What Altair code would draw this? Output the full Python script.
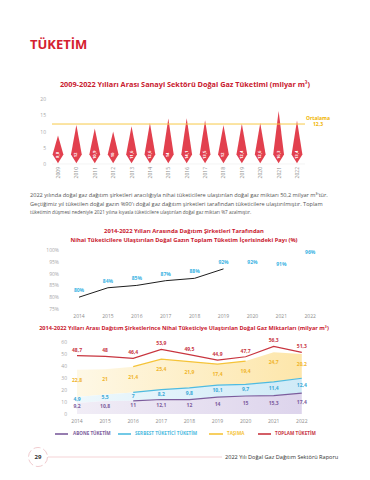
import altair as alt
import pandas as pd

FONT = "Open Sans"
RED = "#c9202f"

# ---------------- data ----------------
page_title = "TÜKETİM"
title1 = "2009-2022 Yılları Arası Sanayi Sektörü Doğal Gaz Tüketimi (milyar m³)"
years1 = list(range(2009, 2023))
sanayi = [8.8, 12, 10.9, 10, 11.6, 12.6, 14, 14.1, 13.5, 12, 12.4, 12.6, 16.3, 13.4]
ortalama = 12.3
ortalama_text = ["Ortalama", "12,3"]
y_ticks1 = [0, 5, 10, 15, 20]

paragraph = [
    "2022 yılında doğal gaz dağıtım şirketleri aracılığıyla nihai tüketicilere ulaştırılan doğal gaz miktarı 50,2 milyar m³'tür.",
    "Geçtiğimiz yıl tüketilen doğal gazın %90'ı doğal gaz dağıtım şirketleri tarafından tüketicilere ulaştırılmıştır. Toplam",
    "tüketimin düşmesi nedeniyle 2021 yılına kıyasla tüketicilere ulaştırılan doğal gaz miktarı %7 azalmıştır.",
]

title2 = [
    "2014-2022 Yılları Arasında Dağıtım Şirketleri Tarafından",
    "Nihai Tüketicilere Ulaştırılan Doğal Gazın Toplam Tüketim İçerisindeki Payı (%)",
]
years2 = list(range(2014, 2023))
pay = [80, 84, 85, 87, 88, 92, 92, 91, 96]
pay_line_last = 2019
y_ticks2 = [75, 80, 85, 90, 95, 100]

title3 = "2014-2022 Yılları Arası Dağıtım Şirketlerince Nihai Tüketiciye Ulaştırılan Doğal Gaz Miktarları (milyar m³)"
years3 = list(range(2014, 2023))
abone = [9.2, 10.8, 11, 12.1, 12, 14, 15, 15.3, 17.4]
serbest = [4.9, 5.5, 7, 8.2, 9.8, 10.1, 9.7, 11.4, 12.4]
tasima = [22.8, 21, 21.4, 25.4, 21.9, 17.4, 19.4, 24.7, 20.2]
toplam = [48.7, 48, 46.4, 53.9, 49.5, 44.9, 47.7, 56.3, 51.3]
y_ticks3 = [0, 10, 20, 30, 40, 50, 60]
legend_names = ["ABONE TÜKETİM", "SERBEST TÜKETİCİ TÜKETİM", "TAŞIMA", "TOPLAM TÜKETİM"]

page_no = "29"
footer = "2022 Yılı Doğal Gaz Dağıtım Sektörü Raporu"

# colours
C_SPIKE = "#e2404e"
C_AVG = "#f7c948"
C_AVG_TXT = "#f0b400"
C_CYAN = "#3bb3e3"
C_PUR = "#7b5c9c"
C_BLU = "#4fbbe0"
C_YEL = "#f5c338"
C_TOT = "#c8353f"
C_TICK = "#a8a8a8"
C_XLAB = "#8c8c8c"

W = 354


def tr(v):
    return f"{v:g}".replace(".", ",")


def txt(text, x, y, size, color, weight="normal", align="left"):
    return alt.Chart(pd.DataFrame({"t": [text]})).mark_text(
        align=align, baseline="middle", fontSize=size, color=color,
        fontWeight=weight, font=FONT
    ).encode(x=alt.value(x), y=alt.value(y), text="t:N")


def anchor(x0, y0):
    return alt.Chart(pd.DataFrame({"a": [0]})).mark_rect(color="white").encode(
        x=alt.value(x0), x2=alt.value(x0 + 1), y=alt.value(y0), y2=alt.value(y0 + 1))


def xdomain(first, px0, step):
    return [first - px0 / step, first + (W - px0) / step]


def ylabels(ticks, scale, xpos, suffix=""):
    df = pd.DataFrame({"v": ticks, "lab": [f"{t}{suffix}" for t in ticks]})
    return alt.Chart(df).mark_text(align="right", baseline="middle", fontSize=5,
                                   color=C_TICK, font=FONT).encode(
        y=alt.Y("v:Q", scale=scale, axis=None), x=alt.value(xpos), text="lab:N")


def xlabels(years, scale, ypos, angle=0):
    df = pd.DataFrame({"year": years, "lab": [str(y) for y in years]})
    if angle:
        mk = alt.Chart(df).mark_text(align="right", baseline="middle", angle=angle,
                                     fontSize=5, color=C_XLAB, font=FONT)
    else:
        mk = alt.Chart(df).mark_text(align="center", baseline="middle",
                                     fontSize=5, color=C_XLAB, font=FONT)
    return mk.encode(x=alt.X("year:Q", scale=scale, axis=None), y=alt.value(ypos),
                     text="lab:N")


# ---------------- panel 0: header ----------------
H0 = 91
p0 = alt.layer(
    anchor(0, 0),
    txt(page_title, 22, 37, 13, "#d42130", "bold"),
    txt(title1, 177, 77, 7.3, RED, "bold", "center"),
).properties(width=W, height=H0)

# ---------------- panel 1: spikes ----------------
H1 = 65
STEP1 = 18.385
xs1 = alt.Scale(domain=xdomain(2009, 50, STEP1), nice=False, zero=False)
ys1 = alt.Scale(domain=[0, 20], nice=False)
hw = 5.4 / STEP1
rows = []
for yr, v in zip(years1, sanayi):
    rows += [dict(year=yr, x=yr - hw, top=2.9, bot=2.9),
             dict(year=yr, x=yr, top=v, bot=0.2),
             dict(year=yr, x=yr + hw, top=2.9, bot=2.9)]
spk = pd.DataFrame(rows)
d1 = pd.DataFrame({"year": years1, "v": sanayi, "lab": [tr(v) for v in sanayi],
                   "ly": [2.8] * len(years1)})
avg = pd.DataFrame({"ort": [ortalama], "zero": [0],
                    "t1": [ortalama_text[0]], "t2": [ortalama_text[1]]})

spikes = alt.Chart(spk).mark_area(color=C_SPIKE, interpolate="linear").encode(
    x=alt.X("x:Q", scale=xs1, axis=None),
    y=alt.Y("top:Q", scale=ys1, stack=False, axis=None),
    y2="bot:Q",
    detail="year:N",
)
base_rule = alt.Chart(avg).mark_rule(color="#ececec", strokeWidth=0.6).encode(
    y=alt.Y("zero:Q", scale=ys1, axis=None), x=alt.value(44), x2=alt.value(297))
spike_lab = alt.Chart(d1).mark_text(angle=270, color="white", fontSize=4.2,
                                    fontWeight="bold", font=FONT).encode(
    x=alt.X("year:Q", scale=xs1, axis=None),
    y=alt.Y("ly:Q", scale=ys1, axis=None),
    text="lab:N",
)
avg_rule = alt.Chart(avg).mark_rule(color=C_AVG, strokeWidth=1).encode(
    y=alt.Y("ort:Q", scale=ys1, axis=None), x=alt.value(44), x2=alt.value(297))
avg_t1 = alt.Chart(avg).mark_text(color=C_AVG_TXT, fontSize=5, fontWeight="bold",
                                  font=FONT, dy=-6.5).encode(
    y=alt.Y("ort:Q", scale=ys1, axis=None), x=alt.value(310), text="t1:N")
avg_t2 = alt.Chart(avg).mark_text(color=C_AVG_TXT, fontSize=5, fontWeight="bold",
                                  font=FONT, dy=-0.5).encode(
    y=alt.Y("ort:Q", scale=ys1, axis=None), x=alt.value(310), text="t2:N")
p1 = alt.layer(
    base_rule, spikes, spike_lab, avg_rule, avg_t1, avg_t2,
    ylabels(y_ticks1, ys1, 38),
    xlabels(years1, xs1, H1 + 3, angle=270),
).properties(width=W, height=H1)

# ---------------- panel 2: paragraph + title 2 ----------------
H2 = 86
p2 = alt.layer(
    txt(paragraph[0], 22, 31, 5.6, "#555"),
    txt(paragraph[1], 22, 40, 5.6, "#555"),
    txt(paragraph[2], 22, 49, 4.7, "#555"),
    txt(title2[0], 176, 67, 5.8, RED, "bold", "center"),
    txt(title2[1], 176, 76, 5.8, RED, "bold", "center"),
).properties(width=W, height=H2)

# ---------------- panel 3: share line ----------------
H3 = 59
STEP2 = 28.9
xs2 = alt.Scale(domain=xdomain(2014, 71, STEP2), nice=False, zero=False)
ys2 = alt.Scale(domain=[75, 100], nice=False, zero=False)
d2 = pd.DataFrame({"year": years2, "pay": pay, "lab": [f"{p}%" for p in pay]})
line2 = alt.Chart(d2).transform_filter(f"datum.year <= {pay_line_last}").mark_line(
    color="#1e1e1e", strokeWidth=1).encode(
    x=alt.X("year:Q", scale=xs2, axis=None),
    y=alt.Y("pay:Q", scale=ys2, axis=None),
)
lab2 = alt.Chart(d2).mark_text(color=C_CYAN, fontSize=5, fontWeight="bold", font=FONT,
                               dy=-7).encode(
    x=alt.X("year:Q", scale=xs2, axis=None),
    y=alt.Y("pay:Q", scale=ys2, axis=None),
    text="lab:N",
)
p3 = alt.layer(
    line2, lab2,
    ylabels(y_ticks2, ys2, 51, "%"),
    xlabels(years2, xs2, H3 + 7),
).properties(width=W, height=H3)

# ---------------- panel 4: title 3 ----------------
H4 = 33
p4 = alt.layer(
    txt(title3, 176, 19, 5.6, RED, "bold", "center"),
).properties(width=W, height=H4)

# ---------------- panel 5: stacked areas ----------------
H5 = 72
STEP3 = 28.1
xs3 = alt.Scale(domain=xdomain(2014, 69, STEP3), nice=False, zero=False)
ys3 = alt.Scale(domain=[0, 60], nice=False)
d3 = pd.DataFrame({"year": years3, "abone": abone, "serbest": serbest,
                   "tasima": tasima, "toplam": toplam})
d3["z"] = 0.0
d3["c1"] = d3["abone"]
d3["c2"] = d3["c1"] + d3["serbest"]
d3["c3"] = d3["c2"] + d3["tasima"]
d3["m1"] = d3["c1"] / 2
d3["m2"] = (d3["c1"] + d3["c2"]) / 2
for col in ["abone", "serbest", "tasima", "toplam"]:
    d3["l_" + col] = [tr(v) for v in d3[col]]


def grad(c0, c1):
    return alt.Gradient(gradient="linear", x1=0, x2=1, y1=0, y2=0,
                        stops=[alt.GradientStop(color=c0, offset=0),
                               alt.GradientStop(color=c1, offset=1)])


X3 = alt.X("year:Q", scale=xs3, axis=None)


def area3(top, bot, g):
    return alt.Chart(d3).mark_area(color=g).encode(
        x=X3, y=alt.Y(f"{top}:Q", scale=ys3, axis=None, stack=False), y2=f"{bot}:Q")


def line3(field, color, flt, w=1.2):
    return alt.Chart(d3).transform_filter(flt).mark_line(color=color, strokeWidth=w).encode(
        x=X3, y=alt.Y(f"{field}:Q", scale=ys3, axis=None))


def lab3(field, text, color, dy):
    return alt.Chart(d3).mark_text(color=color, fontSize=5, fontWeight="bold",
                                   font=FONT, dy=dy).encode(
        x=X3, y=alt.Y(f"{field}:Q", scale=ys3, axis=None), text=f"{text}:N")


p5 = alt.layer(
    area3("c3", "c2", grad("#fef8e6", "#fde6aa")),
    area3("c2", "c1", grad("#eef8fc", "#cfeaf7")),
    area3("c1", "z", grad("#f1edf6", "#ddd4ec")),
    line3("c3", C_YEL, "datum.year >= 2016 && datum.year <= 2020", 1.3),
    line3("c2", C_BLU, "datum.year >= 2016", 1.2),
    line3("c1", C_PUR, "datum.year >= 2016", 1.2),
    line3("toplam", C_TOT, "true", 1.2),
    lab3("m1", "l_abone", C_PUR, -2),
    lab3("m2", "l_serbest", "#3aa9d6", -1),
    lab3("c3", "l_tasima", "#f0b429", 10),
    lab3("toplam", "l_toplam", C_TOT, -6),
    ylabels(y_ticks3, ys3, 59),
    xlabels(years3, xs3, H5 + 7),
).properties(width=W, height=H5)

# ---------------- panel 6: legend + footer ----------------
H6 = 58
one = pd.DataFrame({"a": [0]})


def seg(x0, x1, y, color, w):
    return alt.Chart(one).mark_rule(color=color, strokeWidth=w).encode(
        x=alt.value(x0), x2=alt.value(x1), y=alt.value(y))


leg_cols = [C_PUR, C_BLU, C_YEL, C_TOT]
leg_x = [(47, 60, 65), (110, 123, 127), (201, 215, 219), (250, 263, 267)]
leg_layers = []
for name, col, (a, b, t) in zip(legend_names, leg_cols, leg_x):
    leg_layers.append(seg(a, b, 20, col, 1.6))
    leg_layers.append(txt(name, t, 20, 4.6, col, "bold"))

circle = alt.Chart(one).mark_point(shape="circle", size=361, filled=False,
                                   color="#e6a3aa", strokeWidth=0.8,
                                   strokeDash=[7, 3]).encode(
    x=alt.value(30), y=alt.value(43))
p6 = alt.layer(
    anchor(W - 1, H6 - 1),
    *leg_layers,
    seg(40, 214, 43, "#f2c8cc", 0.8),
    circle,
    txt(page_no, 30, 43, 6, "#333", "bold", "center"),
    txt(footer, 217, 43, 5.6, "#333"),
).properties(width=W, height=H6)

chart = alt.vconcat(p0, p1, p2, p3, p4, p5, p6, spacing=0, bounds="flush").properties(
    padding=0, background="white").configure_view(strokeWidth=0)

chart.save("out.html", embed_options={"renderer": "svg", "actions": False})
